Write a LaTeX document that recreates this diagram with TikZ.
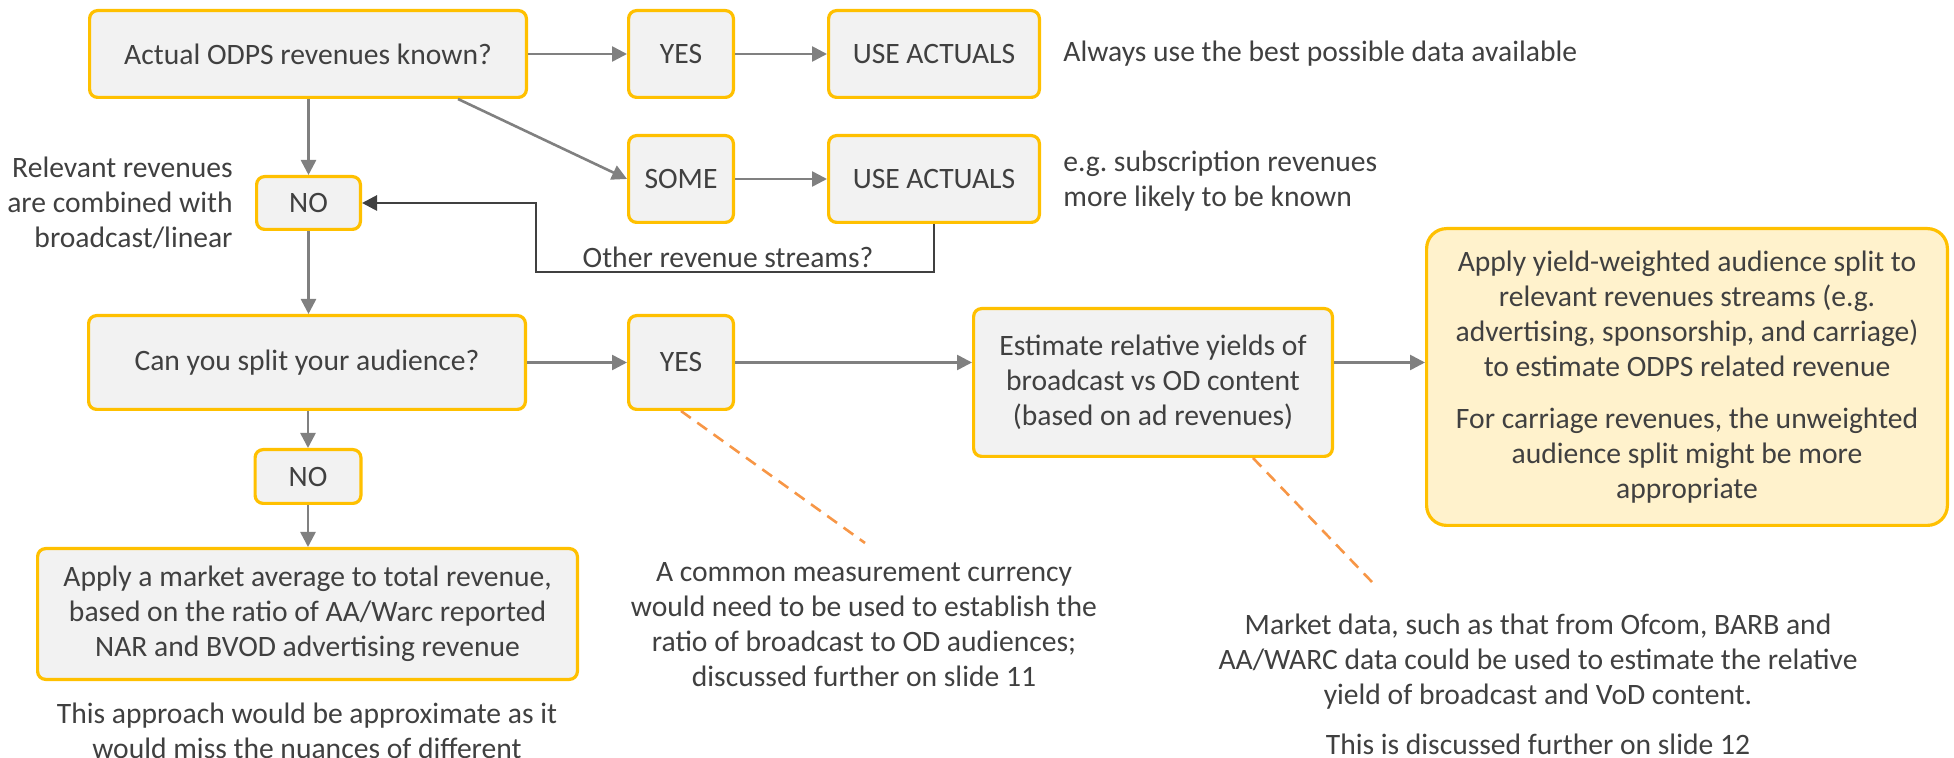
\documentclass[tikz,border=0pt]{standalone}
\usepackage{fontspec}
\setmainfont{Carlito}
\usetikzlibrary{arrows.meta,calc}
\definecolor{boxfill}{RGB}{242,242,242}
\definecolor{boxedge}{RGB}{255,192,0}
\definecolor{notefill}{RGB}{255,242,204}
\definecolor{ink}{RGB}{64,64,64}
\definecolor{flow}{RGB}{128,128,128}
\definecolor{hint}{RGB}{247,150,70}
\frenchspacing
\begin{document}
\begin{tikzpicture}[x=0.5pt,y=-0.5pt,
  every node/.style={text=ink, font=\fontsize{14.8pt}{17.5pt}\selectfont},
  box/.style={draw=boxedge, fill=boxfill, line width=1.6pt, rounded corners=4pt,
              inner sep=0pt, align=center},
  keybox/.style={box, fill=notefill, rounded corners=10pt},
  arr/.style={draw=flow, line width=1.3pt, -{Triangle[length=7.5pt,width=7.5pt]}},
  back/.style={draw=ink, line width=1.4pt, -{Triangle[length=7.5pt,width=7.5pt]}},
  hintline/.style={draw=hint, line width=1.3pt, dash pattern=on 6pt off 4pt},
  note/.style={align=center, inner sep=0pt}
]
\useasboundingbox (0,0) rectangle (1954,758);

% --- first decision: are actual revenues known? ---
\node[box, minimum width=218.4pt, minimum height=43.4pt] (actual) at (308,54) {Actual ODPS revenues known?};
\node[box, minimum width=52.4pt, minimum height=43.4pt] (yes1) at (681,54) {YES};
\node[box, minimum width=105.4pt, minimum height=43.4pt] (use1) at (934,54) {USE ACTUALS};
\node[box, minimum width=52.4pt, minimum height=43.4pt] (some) at (681,179) {SOME};
\node[box, minimum width=105.4pt, minimum height=43.4pt] (use2) at (934,179) {USE ACTUALS};
\node[box, minimum width=51.9pt, minimum height=26.4pt] (no1) at (308.5,203) {NO};

\node[anchor=west, inner sep=0pt] (best) at (1063,54) {Always use the best possible data available};
\node[anchor=west, align=left, inner sep=0pt] (subs) at (1063,181.5) {e.g. subscription revenues\\more likely to be known};
\node[anchor=east, align=right, inner sep=0pt] (combined) at ($(no1.west)+(-22,0)$) {Relevant revenues\\are combined with\\broadcast/linear};

\draw[arr] (actual.east) -- (yes1.west);
\draw[arr] (yes1.east) -- (use1.west);
\draw[arr] (some.east) -- (use2.west);
\draw[arr] (actual.south -| no1.north) -- (no1.north);
\draw[arr] ($(actual.south west)+(370,0)$) -- (some.west);

% loop back for the remaining revenue streams
\coordinate (loopturn) at (536,272);
\draw[back] (use2.south) |- (loopturn) |- (no1.east);
\node[inner sep=0pt] (otherlbl) at (728,257) {Other revenue streams?};

% --- second decision: can the audience be split? ---
\node[box, minimum width=218.4pt, minimum height=46.9pt] (split) at (307,362.5) {Can you split your audience?};
\node[box, minimum width=52.4pt, minimum height=46.9pt] (yes2) at (681,362.5) {YES};
\node[box, minimum width=52.9pt, minimum height=26.9pt] (no2) at (308,476.5) {NO};
\node[box, minimum width=269.9pt, minimum height=65.4pt] (apply) at (307.5,614)
  {Apply a market average to total revenue,\\based on the ratio of AA/Warc reported\\NAR and BVOD advertising revenue};
\node[box, minimum width=179.4pt, minimum height=73.9pt] (est) at (1153,382.5)
  {Estimate relative yields of\\broadcast vs OD content\\(based on ad revenues)};
\node[keybox, minimum width=260.4pt, minimum height=148.4pt] (yield) at (1687,377)
  {Apply yield-weighted audience split to\\relevant revenues streams (e.g.\\advertising, sponsorship, and carriage)\\to estimate ODPS related revenue\\[8.5pt]For carriage revenues, the unweighted\\audience split might be more\\appropriate};

\draw[arr] (no1.south) -- (no1.south |- split.north);
\draw[arr] (split.south -| no2.north) -- (no2.north);
\draw[arr] (no2.south) -- (no2.south |- apply.north);
\draw[arr] (split.east |- yes2.west) -- (yes2.west);
\draw[arr] (yes2.east) -- (yes2.east -| est.west);
\draw[arr] (est.east |- yes2.east) -- (yield.west |- yes2.east);

% --- explanatory notes ---
\node[note] (approx) at (307,730.5) {This approach would be approximate as it\\would miss the nuances of different};
\node[note] (note1) at (864,625) {A common measurement currency\\would need to be used to establish the\\ratio of broadcast to OD audiences;\\discussed further on slide 11};
\node[note] (note2) at (1538,684) {Market data, such as that from Ofcom, BARB and\\AA/WARC data could be used to estimate the relative\\yield of broadcast and VoD content.\\[7.5pt]This is discussed further on slide 12};

\coordinate (hint1) at (865,543);
\coordinate (hint2) at (1372,582);
\draw[hintline] (yes2.south) -- (hint1);
\draw[hintline] ($(est.south)+(100,0)$) -- (hint2);
\end{tikzpicture}
\end{document}
